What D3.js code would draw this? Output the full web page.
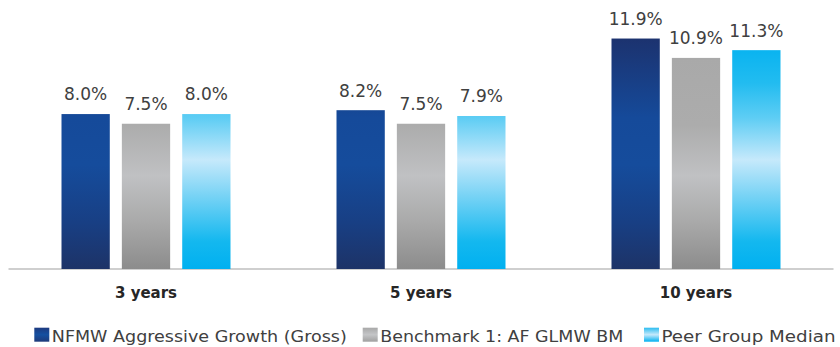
<!DOCTYPE html>
<html>
<head>
<meta charset="utf-8">
<script src="https://cdn.jsdelivr.net/npm/d3@7"></script>
<style>
  html, body { margin: 0; padding: 0; background: #fff; }
  svg { display: block; }
</style>
</head>
<body>
<svg id="chart" width="840" height="347"></svg>
<script>
// Annualised returns by period
const periods = ["3 years", "5 years", "10 years"];
const seriesNames = ["NFMW Aggressive Growth (Gross)", "Benchmark 1: AF GLMW BM", "Peer Group Median"];
const fundValues = [8.0, 8.2, 11.9];
const benchmarkValues = [7.5, 7.5, 10.9];
const peerValues = [8.0, 7.9, 11.3];
const valueLabels = [
  ["8.0%", "8.2%", "11.9%"],
  ["7.5%", "7.5%", "10.9%"],
  ["8.0%", "7.9%", "11.3%"]
];
const seriesValues = [fundValues, benchmarkValues, peerValues];

const svg = d3.select("#chart");
const W = 840;
const baseY = 269;
const labelFont = "'DejaVu Sans', sans-serif";

const x0 = d3.scaleBand().domain(periods).range([8.5, 833.5]).padding(0);
const x1 = d3.scaleBand().domain(d3.range(seriesNames.length))
  .range([53, 222]).paddingInner(0.2).paddingOuter(0);
const y = d3.scaleLinear().domain([0, 12]).range([baseY, 36.6]);

// Vertical gradients, shared across the plot height
const defs = svg.append("defs");
const gradStops = [
  [[0, "#1c326e"], [0.35, "#154a9a"], [0.55, "#154c9c"], [0.8, "#183f84"], [1, "#1d3367"]],
  [[0, "#a8a8a8"], [0.38, "#acacac"], [0.6, "#c0c1c3"], [0.8, "#a9a9a9"], [1, "#8c8c8c"]],
  [[0, "#00b0f0"], [0.2, "#22bcf0"], [0.35, "#5ecdf4"], [0.53, "#c6e9fb"], [0.72, "#66cef4"], [0.88, "#14b8ef"], [1, "#00b0f0"]]
];
gradStops.forEach((stops, i) => {
  const g = defs.append("linearGradient")
    .attr("id", "bar" + i)
    .attr("gradientUnits", "userSpaceOnUse")
    .attr("x1", 0).attr("x2", 0)
    .attr("y1", y(12)).attr("y2", baseY);
  stops.forEach(s => g.append("stop").attr("offset", s[0]).attr("stop-color", s[1]));
});
const swatchStops = [
  [[0, "#1d3a80"], [0.5, "#1550a0"], [1, "#1e3a7a"]],
  [[0, "#a8a8a8"], [0.5, "#c4c5c7"], [1, "#a0a0a0"]],
  [[0, "#2dbdf0"], [0.5, "#c6e9fb"], [1, "#00b0f0"]]
];
swatchStops.forEach((stops, i) => {
  const g = defs.append("linearGradient")
    .attr("id", "sw" + i)
    .attr("x1", 0).attr("x2", 0).attr("y1", 0).attr("y2", 1);
  stops.forEach(s => g.append("stop").attr("offset", s[0]).attr("stop-color", s[1]));
});

// Baseline
svg.append("line")
  .attr("x1", x0.range()[0]).attr("x2", x0.range()[1])
  .attr("y1", baseY).attr("y2", baseY)
  .attr("stroke", "#bfbfbf").attr("stroke-width", 1.5);

// Bars and value labels
const groups = svg.selectAll("g.period")
  .data(periods)
  .join("g")
  .attr("class", "period")
  .attr("transform", d => `translate(${x0(d)},0)`);

groups.each(function(p, pi) {
  const g = d3.select(this);
  seriesValues.forEach((vals, si) => {
    const v = vals[pi];
    g.append("rect")
      .attr("x", x1(si))
      .attr("y", y(v))
      .attr("width", x1.bandwidth())
      .attr("height", baseY - y(v))
      .attr("fill", `url(#bar${si})`);
    g.append("text")
      .attr("x", x1(si) + x1.bandwidth() / 2)
      .attr("y", y(v) - 13.6)
      .attr("text-anchor", "middle")
      .attr("font-family", labelFont)
      .attr("font-size", 17)
      .attr("fill", "#404040")
      .text(valueLabels[si][pi]);
  });
});

// Category axis labels
svg.append("g").selectAll("text")
  .data(periods)
  .join("text")
  .attr("x", d => x0(d) + x0.bandwidth() / 2)
  .attr("y", 298.3)
  .attr("text-anchor", "middle")
  .attr("font-family", labelFont)
  .attr("font-weight", "bold")
  .attr("font-size", 15)
  .attr("fill", "#262626")
  .text(d => d);

// Legend
const legendX = [34.3, 362.7, 644];
const legendWidths = [295, 243, 174];
const legend = svg.append("g").selectAll("g")
  .data(seriesNames)
  .join("g")
  .attr("transform", (d, i) => `translate(${legendX[i]},0)`);
legend.append("rect")
  .attr("x", 0).attr("y", 327.7)
  .attr("width", 15).attr("height", 14)
  .attr("fill", (d, i) => `url(#sw${i})`);
legend.append("text")
  .attr("x", 17.5).attr("y", 341.7)
  .attr("font-family", labelFont)
  .attr("font-size", 16.5)
  .attr("fill", "#404040")
  .attr("textLength", (d, i) => legendWidths[i])
  .attr("lengthAdjust", "spacingAndGlyphs")
  .text(d => d);
</script>
</body>
</html>
